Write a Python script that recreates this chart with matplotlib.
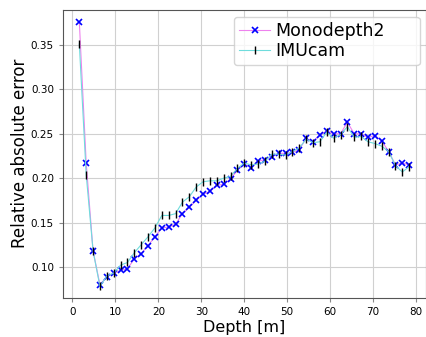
import numpy as np
import matplotlib
matplotlib.use("Agg")
import matplotlib.pyplot as plt

depth = [1.6 * i for i in range(1, 50)]

monodepth2 = [0.376, 0.217, 0.118, 0.080, 0.089, 0.093, 0.096, 0.098, 0.109, 0.115,
              0.124, 0.134, 0.144, 0.145, 0.148, 0.160, 0.167, 0.175, 0.182, 0.185,
              0.192, 0.193, 0.199, 0.209, 0.216, 0.212, 0.219, 0.221, 0.224, 0.228,
              0.228, 0.229, 0.232, 0.245, 0.241, 0.249, 0.253, 0.250, 0.250, 0.263,
              0.250, 0.250, 0.246, 0.248, 0.242, 0.230, 0.215, 0.217, 0.215]

imucam = [0.351, 0.204, 0.118, 0.078, 0.090, 0.093, 0.102, 0.105, 0.116, 0.125,
          0.134, 0.144, 0.158, 0.158, 0.160, 0.173, 0.179, 0.190, 0.196, 0.197,
          0.197, 0.200, 0.202, 0.211, 0.217, 0.215, 0.216, 0.219, 0.227, 0.227,
          0.226, 0.230, 0.234, 0.244, 0.240, 0.241, 0.252, 0.245, 0.249, 0.258,
          0.246, 0.247, 0.241, 0.239, 0.236, 0.230, 0.214, 0.207, 0.213]

fig = plt.figure(figsize=(4.27, 3.37), dpi=100)
ax = fig.add_axes([63/427, 39/337, 363/427, 288.5/337])

ax.plot(depth, monodepth2, color="violet", linewidth=0.8, marker="x",
        markersize=5, markeredgecolor="blue", markeredgewidth=1.2, label="Monodepth2")
ax.plot(depth, imucam, color="#6fdcdc", linewidth=0.8, marker="|",
        markersize=6, markeredgecolor="black", markeredgewidth=1.0, label="IMUcam")

ax.set_xlim(-2.2, 82.3)
ax.set_ylim(0.065, 0.390)
ax.set_xticks([0, 10, 20, 30, 40, 50, 60, 70, 80])
ax.set_yticks([0.10, 0.15, 0.20, 0.25, 0.30, 0.35])
ax.grid(True, color="#d0d0d0", linewidth=0.8)
ax.set_axisbelow(True)
ax.tick_params(labelsize=7.5, length=3, color="#888888")
for s in ax.spines.values():
    s.set_color("#555555")
ax.set_xlabel("Depth [m]", fontsize=11.5, labelpad=2)
ax.set_ylabel("Relative absolute error", fontsize=12, labelpad=1)
ax.legend(loc="upper left", bbox_to_anchor=(0.471, 0.974, 0.512, 0.0), mode="expand",
          fontsize=12.5, handlelength=1.8, borderpad=0.3,
          labelspacing=0.1, handletextpad=0.3, borderaxespad=0.0)

fig.savefig("out.png", dpi=100)
